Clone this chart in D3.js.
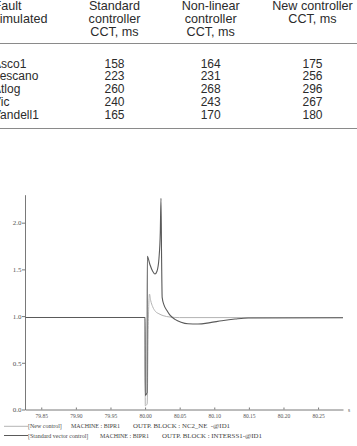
<!DOCTYPE html>
<html>
<head>
<meta charset="utf-8">
<script src="https://cdn.jsdelivr.net/npm/d3@7"></script>
<style>
  body { margin: 0; background: #fff; }
  svg { display: block; }
</style>
</head>
<body>
<div id="chart"></div>
<script>
// Datos de la tabla
const faults = ["Asco1", "Lescano", "Atlog", "Vic", "Vandell1"];
const standardCCT = [158, 223, 260, 240, 165];
const nonLinearCCT = [164, 231, 268, 243, 170];
const newCCT = [175, 256, 296, 267, 180];
const headers = [
  ["Fault", "simulated"],
  ["Standard", "controller", "CCT, ms"],
  ["Non-linear", "controller", "CCT, ms"],
  ["New controller", "CCT, ms"]
];

// Datos de la gráfica (tiempo en s, valor en p.u.)
const newTime = [79.8265, 80.0000, 80.0003, 80.0030, 80.0046, 80.0064, 80.0080, 80.0110, 80.0150, 80.0200, 80.0260, 80.0360, 80.0500, 80.2860];
const newValues = [0.985, 0.985, 0.04, 0.06, 0.90, 1.235, 1.17, 1.10, 1.05, 1.025, 1.005, 0.99, 0.984, 0.984];
const stdTime = [79.8265, 80.0000, 80.0002, 80.0029, 80.0032, 80.0071, 80.0110, 80.0143, 80.0172, 80.0201, 80.0220, 80.0230, 80.0239, 80.0247, 80.0273, 80.0316, 80.0360, 80.0432, 80.0520, 80.0620, 80.0765, 80.0940, 80.1110, 80.1300, 80.1490, 80.2860];
const stdValues = [0.985, 0.985, 0.15, 0.18, 1.64, 1.55, 1.48, 1.45, 1.48, 1.62, 1.90, 2.26, 1.60, 1.20, 1.12, 1.06, 1.01, 0.965, 0.935, 0.918, 0.915, 0.93, 0.95, 0.968, 0.98, 0.982];
const yTicks = [0, 0.5, 1.0, 1.5, 2.0];
const xTicks = [79.85, 79.90, 79.95, 80.00, 80.05, 80.10, 80.15, 80.20, 80.25];
const legendLabels = [
  ["[New control]", "MACHINE : BIPR1", "OUTP. BLOCK : NC2_NE  -@ID1"],
  ["[Standard vector control]", "MACHINE : BIPR1", "OUTP. BLOCK : INTERSS1-@ID1"]
];

const width = 357;
const height = 446;

const svg = d3.select("#chart").append("svg")
  .attr("width", width)
  .attr("height", height);

svg.append("rect").attr("width", width).attr("height", height).attr("fill", "#fff");

// ---- Tabla ----
const table = svg.append("g")
  .attr("font-family", "'Liberation Sans', Arial, sans-serif")
  .attr("fill", "#2b2b2b");

const colX = [-6.5, 114.5, 210.7, 312.5];
const headerBase = [9.5, 22.5, 35.5];

headers.forEach((lines, i) => {
  lines.forEach((txt, j) => {
    table.append("text")
      .attr("x", colX[i])
      .attr("y", headerBase[j])
      .attr("font-size", 12.6)
      .attr("text-anchor", i === 0 ? "start" : "middle")
      .text(txt);
  });
});

table.append("line").attr("x1", 0).attr("x2", width).attr("y1", 43.5).attr("y2", 43.5)
  .attr("stroke", "#8a8a8a").attr("stroke-width", 1);
table.append("line").attr("x1", 0).attr("x2", width).attr("y1", 128.5).attr("y2", 128.5)
  .attr("stroke", "#8a8a8a").attr("stroke-width", 1);

const rowY = d3.scaleLinear().domain([0, 4]).range([67.5, 119]);
faults.forEach((f, i) => {
  const vals = [f, standardCCT[i], nonLinearCCT[i], newCCT[i]];
  vals.forEach((v, c) => {
    table.append("text")
      .attr("x", c === 0 ? -7 : colX[c])
      .attr("y", rowY(i))
      .attr("font-size", 12)
      .attr("text-anchor", c === 0 ? "start" : "middle")
      .text(v);
  });
});

// ---- Gráfica ----
const x = d3.scaleLinear().domain([79.8265, 80.286]).range([25, 343]);
const y = d3.scaleLinear().domain([0, 2.2995]).range([409.5, 194.7]);

const line = d3.line()
  .x(d => x(d[0]))
  .y(d => y(d[1]))
  .curve(d3.curveMonotoneX);

const newData = newTime.map((t, i) => [t, newValues[i]]);
const stdData = stdTime.map((t, i) => [t, stdValues[i]]);

svg.append("path")
  .datum(newData)
  .attr("fill", "none")
  .attr("stroke", "#b4b4b4")
  .attr("stroke-width", 1)
  .attr("d", line);

svg.append("path")
  .datum(stdData)
  .attr("fill", "none")
  .attr("stroke", "#5a5a5a")
  .attr("stroke-width", 1.1)
  .attr("d", line);

// Ejes
const yAxis = svg.append("g")
  .attr("transform", "translate(25,0)")
  .call(d3.axisLeft(y).tickValues(yTicks).tickFormat(d3.format(".1f")).tickSize(3).tickSizeOuter(0).tickPadding(0.5));
yAxis.selectAll("text")
  .attr("font-family", "'Liberation Serif', 'Times New Roman', serif")
  .attr("font-size", 7)
  .attr("fill", "#555");

const xAxis = svg.append("g")
  .attr("transform", "translate(0,409.5)")
  .call(d3.axisBottom(x).tickValues(xTicks).tickFormat(d3.format(".2f")).tickSizeInner(-2).tickSizeOuter(0).tickPadding(5));
xAxis.selectAll("text")
  .attr("font-family", "'Liberation Serif', 'Times New Roman', serif")
  .attr("font-size", 5.5)
  .attr("fill", "#555");

svg.selectAll(".domain, .tick line").attr("stroke", "#6a6a6a").attr("stroke-width", 0.9);

svg.append("text")
  .attr("x", 348)
  .attr("y", 411.5)
  .attr("font-family", "'Liberation Serif', 'Times New Roman', serif")
  .attr("font-size", 5.5)
  .attr("fill", "#555")
  .text("s");

// Leyenda
const legendY = [426.3, 435.5];
const legendColors = ["#b4b4b4", "#5a5a5a"];
const legendX = [[28, 71, 133], [28, 100, 162]];
const legendEnd = [230, 262];

legendLabels.forEach((parts, i) => {
  svg.append("line")
    .attr("x1", 4).attr("x2", 28)
    .attr("y1", legendY[i]).attr("y2", legendY[i])
    .attr("stroke", legendColors[i]).attr("stroke-width", 1);
  parts.forEach((p, j) => {
    const t = svg.append("text")
      .attr("x", legendX[i][j])
      .attr("y", legendY[i] + 2)
      .attr("font-family", "'Liberation Serif', 'Times New Roman', serif")
      .attr("font-size", 6)
      .attr("fill", "#444")
      .style("white-space", "pre")
      .text(p);
    if (j === 2) {
      t.attr("textLength", legendEnd[i] - legendX[i][j]).attr("lengthAdjust", "spacingAndGlyphs");
    }
  });
});
</script>
</body>
</html>
